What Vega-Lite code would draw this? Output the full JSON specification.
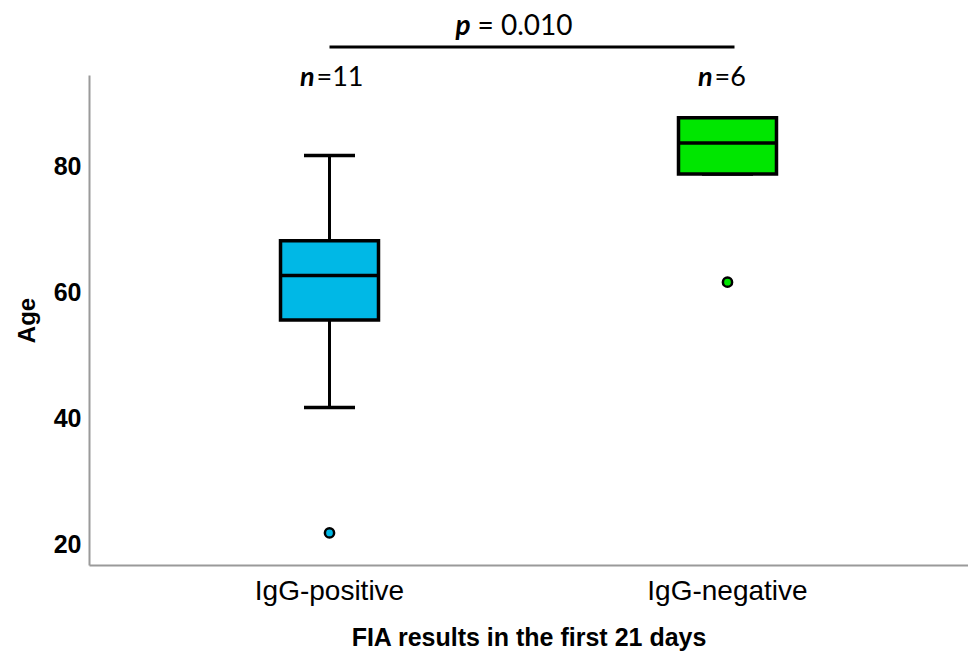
{
  "$schema": "https://vega.github.io/schema/vega-lite/v6.json",
  "autosize": {"type": "none"},
  "padding": {"left": 89, "top": 75, "right": 0, "bottom": 89},
  "width": 879,
  "height": 490,
  "background": "white",
  "config": {
    "view": {"stroke": null},
    "font": "Liberation Sans"
  },
  "datasets": {
    "boxes": [
      {"group": "IgG-positive", "min": 41.8, "q1": 55.7, "median": 62.75, "q3": 68.3, "max": 81.8, "nlabel": "=11"},
      {"group": "IgG-negative", "min": 78.9, "q1": 78.9, "median": 83.8, "q3": 87.8, "max": 87.8, "nlabel": "=6"}
    ],
    "outliers": [
      {"group": "IgG-positive", "age": 21.9},
      {"group": "IgG-negative", "age": 61.7}
    ]
  },
  "encoding": {
    "x": {
      "field": "group",
      "type": "nominal",
      "sort": ["IgG-positive", "IgG-negative"],
      "scale": {"domain": ["IgG-positive", "IgG-negative"], "paddingInner": 0.7538, "paddingOuter": 0.4812},
      "axis": {
        "title": "FIA results in the first 21 days",
        "titleFont": "Liberation Sans",
        "titleFontSize": 25,
        "titleFontWeight": "bold",
        "titleColor": "black",
        "titlePadding": 20,
        "labelFont": "Liberation Sans",
        "labelFontSize": 28,
        "labelFontWeight": "normal",
        "labelColor": "black",
        "labelAngle": 0,
        "labelPadding": 12,
        "ticks": false,
        "domainColor": "#9a9a9a",
        "domainWidth": 2,
        "grid": false
      }
    }
  },
  "layer": [
    {
      "data": {"name": "boxes"},
      "mark": {"type": "rule", "color": "black", "strokeWidth": 3},
      "encoding": {
        "y": {
          "field": "min",
          "type": "quantitative",
          "scale": {"domain": [16.8, 94.6], "nice": false, "zero": false},
          "axis": {
            "title": "Age",
            "titleFont": "Liberation Sans",
            "titleFontSize": 24,
            "titleFontWeight": "bold",
            "titleColor": "black",
            "titlePadding": 14,
            "labelFont": "Liberation Sans",
            "labelFontSize": 25,
            "labelFontWeight": "bold",
            "labelColor": "black",
            "labelPadding": 8,
            "values": [20, 40, 60, 80],
            "ticks": false,
            "domainColor": "#9a9a9a",
            "domainWidth": 2,
            "grid": false
          }
        },
        "y2": {"field": "max"}
      }
    },
    {
      "data": {"name": "boxes"},
      "mark": {"type": "tick", "color": "black", "thickness": 3.5, "size": 51, "orient": "horizontal", "opacity": 1},
      "encoding": {"y": {"field": "max", "type": "quantitative"}}
    },
    {
      "data": {"name": "boxes"},
      "mark": {"type": "tick", "color": "black", "thickness": 3.5, "size": 51, "orient": "horizontal", "opacity": 1},
      "encoding": {"y": {"field": "min", "type": "quantitative"}}
    },
    {
      "data": {"name": "boxes"},
      "mark": {"type": "bar", "stroke": "black", "strokeWidth": 3.5, "opacity": 1},
      "encoding": {
        "y": {"field": "q1", "type": "quantitative"},
        "y2": {"field": "q3"},
        "color": {
          "field": "group",
          "type": "nominal",
          "scale": {"domain": ["IgG-positive", "IgG-negative"], "range": ["#00B8E6", "#00E600"]},
          "legend": null
        }
      }
    },
    {
      "data": {"name": "boxes"},
      "mark": {"type": "tick", "color": "black", "thickness": 3.5, "size": 98, "orient": "horizontal", "opacity": 1},
      "encoding": {"y": {"field": "median", "type": "quantitative"}}
    },
    {
      "data": {"name": "outliers"},
      "mark": {"type": "point", "filled": true, "size": 85, "stroke": "black", "strokeWidth": 2.5, "opacity": 1},
      "encoding": {
        "y": {"field": "age", "type": "quantitative"},
        "color": {"field": "group", "type": "nominal", "legend": null}
      }
    },
    {
      "data": {"name": "boxes"},
      "mark": {"type": "text", "font": "Lato", "fontSize": 27, "fontStyle": "italic", "fontWeight": "bold", "align": "right", "baseline": "alphabetic", "dx": -15, "color": "black"},
      "encoding": {
        "y": {"datum": 92.9},
        "text": {"value": "n"}
      }
    },
    {
      "data": {"name": "boxes"},
      "mark": {"type": "text", "font": "Lato", "fontSize": 27, "align": "left", "baseline": "alphabetic", "dx": -13, "color": "black"},
      "encoding": {
        "y": {"datum": 92.9},
        "text": {"field": "nlabel"}
      }
    },
    {
      "data": {"values": [{"from": "IgG-positive", "to": "IgG-negative"}]},
      "mark": {"type": "rule", "color": "black", "strokeWidth": 3, "x2Offset": 7},
      "encoding": {
        "x": {"field": "from", "type": "nominal", "bandPosition": 0.5},
        "x2": {"field": "to", "bandPosition": 0.5},
        "y": {"datum": 99.05}
      }
    },
    {
      "data": {"values": [{"group": "IgG-positive"}]},
      "mark": {"type": "text", "font": "Lato", "fontSize": 28, "fontStyle": "italic", "fontWeight": "bold", "align": "right", "baseline": "alphabetic", "dx": 141, "color": "black"},
      "encoding": {
        "y": {"datum": 100.95},
        "text": {"value": "p"}
      }
    },
    {
      "data": {"values": [{"group": "IgG-positive"}]},
      "mark": {"type": "text", "font": "Lato", "fontSize": 28, "align": "left", "baseline": "alphabetic", "dx": 148, "color": "black"},
      "encoding": {
        "y": {"datum": 100.95},
        "text": {"value": "= 0.010"}
      }
    }
  ]
}
